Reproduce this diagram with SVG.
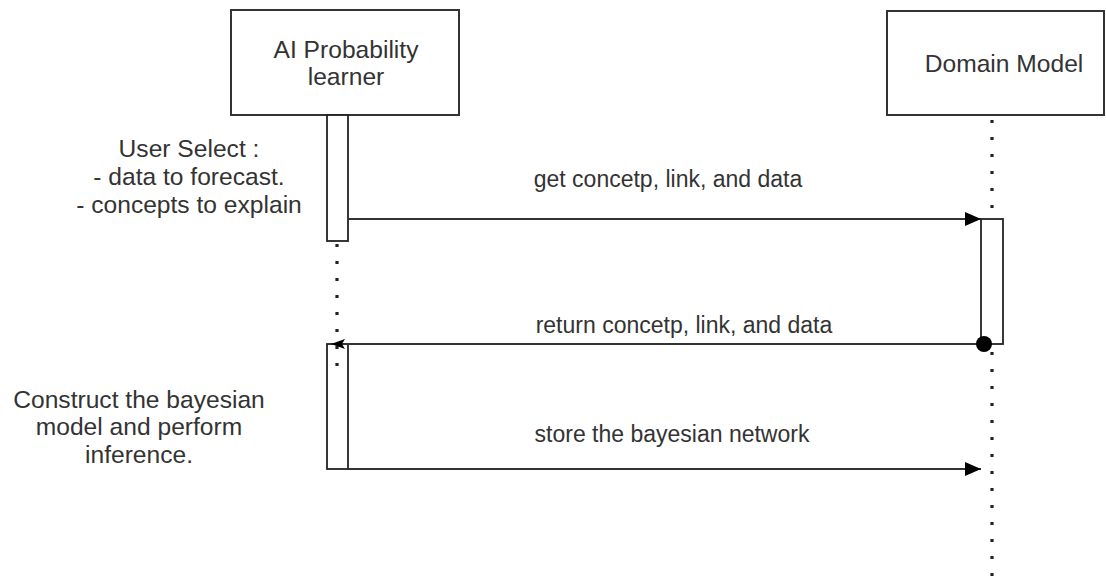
<svg xmlns="http://www.w3.org/2000/svg" width="1106" height="585" viewBox="0 0 1106 585">
<defs>
<style>
.box{fill:#fff;stroke:#333;stroke-width:2}
.bar{fill:#fff;stroke:#222;stroke-width:1.8}
.life{stroke:#222;stroke-width:3.2;stroke-dasharray:3 14;fill:none}
.msg{stroke:#333;stroke-width:2;fill:none}
text{font-family:"Liberation Sans",Arial,sans-serif;font-size:23px;fill:#333;text-anchor:middle}
.big{font-size:24.6px}
</style>
<marker id="block" markerWidth="16" markerHeight="14" refX="16" refY="7" orient="auto" markerUnits="userSpaceOnUse">
<path d="M0,0 L16,7 L0,14 Z" fill="#000"/>
</marker>
<marker id="small" markerWidth="14" markerHeight="10" refX="14" refY="5" orient="auto" markerUnits="userSpaceOnUse">
<path d="M0,0 L14,5 L0,10 L3,5 Z" fill="#000"/>
</marker>
</defs>
<g id="lifelines">
<line class="life" x1="337" y1="244" x2="337" y2="366"/>
<line class="life" x1="992" y1="120" x2="992" y2="219"/>
<line class="life" x1="992" y1="352" x2="992" y2="585"/>
</g>
<g id="ai-learner">
<rect class="box" x="231" y="10" width="228" height="105"/>
<text class="big" x="346" y="58">AI Probability</text>
<text class="big" x="346" y="85">learner</text>
</g>
<g id="domain-model">
<rect class="box" x="887" y="11" width="217" height="104"/>
<text class="big" x="1004" y="72">Domain Model</text>
</g>
<g id="ai-activation-1">
<rect class="bar" x="327" y="115" width="21" height="126"/>
</g>
<g id="ai-activation-2">
<rect class="bar" x="327" y="344" width="21" height="125" style="fill:none"/>
</g>
<g id="domain-activation">
<rect class="bar" x="981" y="219" width="22" height="125"/>
</g>
<g id="notes">
<text class="big" x="189" y="157">User Select :</text>
<text class="big" x="189" y="185">- data to forecast.</text>
<text class="big" x="189" y="213">- concepts to explain</text>
<text class="big" x="139" y="408">Construct the bayesian</text>
<text class="big" x="139" y="435">model and perform</text>
<text class="big" x="139" y="463">inference.</text>
</g>
<g id="connectors">
<line class="msg" x1="348" y1="219" x2="981" y2="219" marker-end="url(#block)"/>
<text x="668" y="187">get concetp, link, and data</text>
<line class="msg" x1="984" y1="344" x2="331" y2="344" marker-end="url(#small)"/>
<circle cx="984" cy="344" r="8" fill="#000"/>
<text x="684" y="333">return concetp, link, and data</text>
<line class="msg" x1="348" y1="469" x2="981" y2="469" marker-end="url(#block)"/>
<text x="672" y="442">store the bayesian network</text>
</g>
</svg>
